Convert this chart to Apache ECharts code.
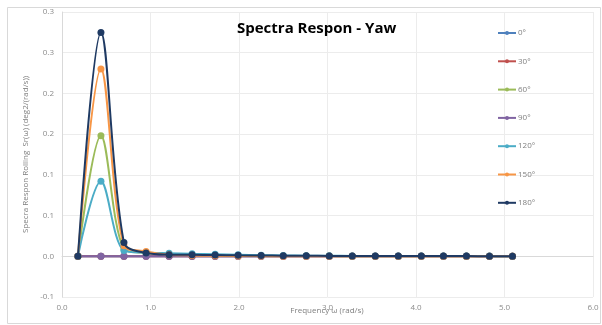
<!DOCTYPE html>
<html>
<head>
<meta charset="utf-8">
<script src="https://cdn.jsdelivr.net/npm/echarts@6/dist/echarts.min.js"></script>
<style>
html,body{margin:0;padding:0;background:#fff;}
#chart{width:602px;height:325px;}
</style>
</head>
<body>
<div id="chart"></div>
<script>
// Data
const freqs = [0.18, 0.44, 0.70, 0.95, 1.21, 1.47, 1.73, 1.99, 2.25, 2.50, 2.76, 3.02, 3.28, 3.54, 3.80, 4.06, 4.31, 4.57, 4.83, 5.09];
const seriesNames = ['0°', '30°', '60°', '90°', '120°', '150°', '180°'];
const s0   = [0, 0, 0, 0, 0, 0, 0, 0, 0, 0, 0, 0, 0, 0, 0, 0, 0, 0, 0, 0];
const s30  = [0, 0, 0, 0, 0, 0, 0, 0, 0, 0, 0, 0, 0, 0, 0, 0, 0, 0, 0, 0];
const s60  = [0, 0.148, 0.009, 0.004, 0.002, 0.0012, 0.0008, 0.0006, 0.0004, 0.0003, 0.0002, 0.0002, 0.0001, 0.0001, 0.0001, 0.0001, 0.0001, 0.0001, 0.0001, 0.0001];
const s90  = [0, 0, 0, 0, 0, 0, 0, 0, 0, 0, 0, 0, 0, 0, 0, 0, 0, 0, 0, 0];
const s120 = [0, 0.092, 0.007, 0.0045, 0.0037, 0.003, 0.0024, 0.0018, 0.0013, 0.001, 0.0008, 0.0006, 0.0005, 0.0004, 0.0003, 0.0003, 0.0002, 0.0002, 0.0002, 0.0001];
const s150 = [0, 0.230, 0.013, 0.006, 0.002, 0.001, 0.0006, 0.0003, 0.0002, 0.0001, 0.0001, 0.0001, 0.0001, 0, 0, 0, 0, 0, 0, 0];
const s180 = [0, 0.2747, 0.017, 0.004, 0.002, 0.0018, 0.0015, 0.0012, 0.001, 0.0008, 0.0006, 0.0005, 0.0004, 0.0003, 0.0003, 0.0002, 0.0002, 0.0002, 0.0001, 0.0001];
const allValues = [s0, s30, s60, s90, s120, s150, s180];
const colors = ['#4F81BD', '#C0504D', '#9BBB59', '#8064A2', '#4BACC6', '#F79646', '#1F3A63'];
const yTicks = {min: -0.05, max: 0.3, interval: 0.05};
const xTicks = {min: 0, max: 6, interval: 1};

const chart = echarts.init(document.getElementById('chart'), null, {renderer: 'canvas'});
const fontFamily = '"Open Sans", "Noto Sans", sans-serif';

function roundHalfUp1(v) {
  const s = v < 0 ? -1 : 1;
  const r = Math.round(Math.abs(v) * 10 + 1e-9) / 10;
  return (s * r).toFixed(1);
}

const series = seriesNames.map((name, i) => ({
  name: name,
  type: 'line',
  smooth: 0.33,
  symbol: 'circle',
  symbolSize: 7,
  showSymbol: true,
  data: freqs.map((f, k) => [f, allValues[i][k]]),
  lineStyle: {width: 2, color: colors[i]},
  itemStyle: {color: colors[i]},
  z: 2 + i
}));

chart.setOption({
  animation: false,
  backgroundColor: '#ffffff',
  color: colors,
  title: {
    text: 'Spectra Respon - Yaw',
    left: 232,
    top: 16,
    textStyle: {fontFamily: fontFamily, fontSize: 15, fontWeight: 'bold', color: '#000000'}
  },
  legend: {
    orient: 'vertical',
    left: 492,
    top: 23,
    itemWidth: 18,
    itemHeight: 5,
    itemGap: 18.3,
    textStyle: {fontFamily: fontFamily, fontSize: 8, color: '#7f7f7f', lineHeight: 10, padding: [0, 0, 0, -3]},
    data: seriesNames
  },
  graphic: [
    {type: 'rect', shape: {x: 7.5, y: 7.5, width: 593, height: 316}, style: {fill: 'none', stroke: '#d9d9d9', lineWidth: 1}, z: -10},
    {type: 'text', style: {text: 'Frequency ω (rad/s)', x: 327, y: 311, textAlign: 'center', textVerticalAlign: 'middle', font: '8px ' + fontFamily, fill: '#7f7f7f'}}
  ],
  grid: {left: 62, right: 9, top: 12, bottom: 28, containLabel: false},
  xAxis: {
    type: 'value',
    min: xTicks.min, max: xTicks.max, interval: xTicks.interval,
    axisLine: {onZero: true, lineStyle: {color: '#d9d9d9', width: 1}},
    axisTick: {show: false},
    axisLabel: {formatter: v => v.toFixed(1), margin: 7, fontFamily: fontFamily, fontSize: 8, color: '#8c8c8c'},
    splitLine: {show: true, lineStyle: {color: '#ececec', width: 1}}
  },
  yAxis: {
    type: 'value',
    min: yTicks.min, max: yTicks.max, interval: yTicks.interval,
    name: 'Specra Respon Rolling  Sr(ω) (deg2/(rad/s))',
    nameLocation: 'middle',
    nameGap: 25,
    nameTextStyle: {fontFamily: fontFamily, fontSize: 8, color: '#7f7f7f'},
    axisLine: {show: true, onZero: false, lineStyle: {color: '#d9d9d9', width: 1}},
    axisTick: {show: false},
    axisLabel: {formatter: v => roundHalfUp1(v), margin: 8, fontFamily: fontFamily, fontSize: 8, color: '#8c8c8c'},
    splitLine: {show: true, lineStyle: {color: '#ececec', width: 1}}
  },
  series: series
});
</script>
</body>
</html>
